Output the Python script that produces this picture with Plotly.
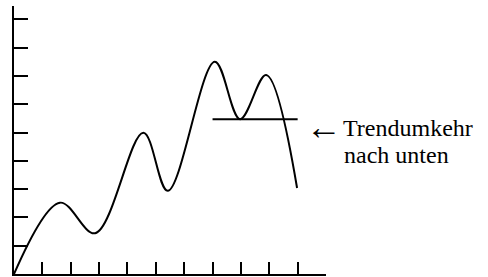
import plotly.graph_objects as go

# Key points of the price curve (x in tick units, y in tick units)
curve_x = [0, 1.62, 2.86, 4.56, 5.42, 7.08, 7.97, 8.89, 9.98]
curve_y = [0, 2.52, 1.44, 4.99, 2.94, 7.50, 5.47, 7.03, 3.04]

# Neckline (horizontal support)
neck_x = [7.0, 10.0]
neck_y = [5.47, 5.47]

x_ticks = list(range(0, 12))
y_ticks = list(range(1, 10))

label_arrow = "←"
label_line1 = "Trendumkehr"
label_line2 = "nach unten"

fig = go.Figure()
fig.add_trace(go.Scatter(x=curve_x, y=curve_y, mode="lines",
                         line=dict(color="black", width=2, shape="spline", smoothing=1.0),
                         hoverinfo="skip", cliponaxis=False))
fig.add_trace(go.Scatter(x=neck_x, y=neck_y, mode="lines",
                         line=dict(color="black", width=2),
                         hoverinfo="skip"))

W, H = 488, 277
L, R, T, B = 14, 162, 6, 3
fig.update_layout(
    width=W, height=H,
    margin=dict(l=L, r=R, t=T, b=B, pad=0),
    paper_bgcolor="white", plot_bgcolor="white",
    showlegend=False,
    font=dict(family="Liberation Serif", color="black"),
)
fig.update_xaxes(range=[0, 11], tickvals=x_ticks, showticklabels=False,
                 ticks="inside", ticklen=12, tickwidth=2, tickcolor="black",
                 showline=True, linecolor="black", linewidth=2,
                 showgrid=False, zeroline=False, fixedrange=True)
fig.update_yaxes(range=[0, 9.47], tickvals=y_ticks, showticklabels=False,
                 ticks="inside", ticklen=14, tickwidth=2, tickcolor="black",
                 showline=True, linecolor="black", linewidth=2,
                 showgrid=False, zeroline=False, fixedrange=True)

pw = W - L - R
ph = H - T - B
def px_to_paper(px, py):
    return (px - L) / pw, (H - B - py) / ph

ax, ay = px_to_paper(304, 127)
fig.add_annotation(text=label_arrow, xref="paper", yref="paper", x=ax, y=ay,
                   xanchor="left", yanchor="middle", showarrow=False,
                   font=dict(size=36, family="Liberation Serif", color="black"))
tx, ty = px_to_paper(341, 128)
fig.add_annotation(text=label_line1, xref="paper", yref="paper", x=tx, y=ty,
                   xanchor="left", yanchor="middle", showarrow=False,
                   font=dict(size=24, family="Liberation Serif", color="black"))
tx2, ty2 = px_to_paper(342, 155)
fig.add_annotation(text=label_line2, xref="paper", yref="paper", x=tx2, y=ty2,
                   xanchor="left", yanchor="middle", showarrow=False,
                   font=dict(size=24, family="Liberation Serif", color="black"))

fig.write_html("out.html", config={"displayModeBar": False},
               post_script="document.body.style.margin='0';")
